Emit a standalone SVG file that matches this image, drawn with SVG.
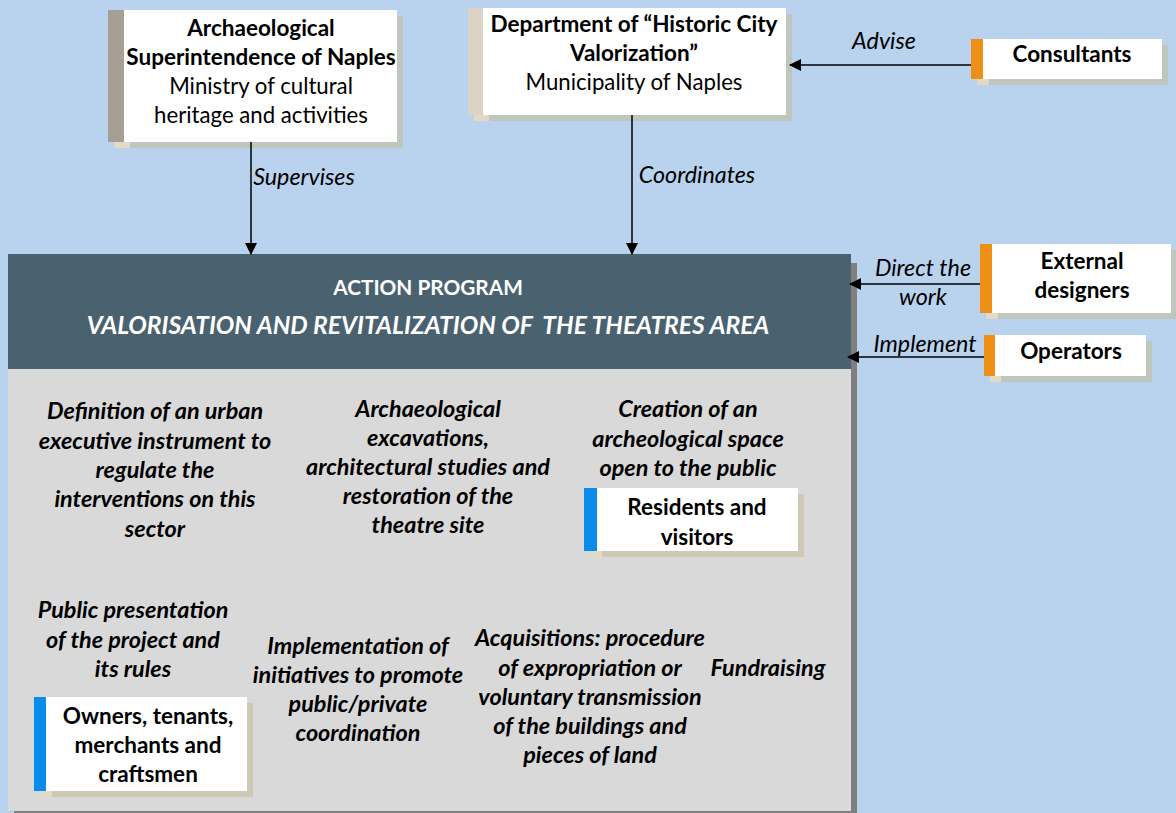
<svg xmlns="http://www.w3.org/2000/svg" width="1176" height="813" viewBox="0 0 1176 813">
<defs>
<style>
text{font-family:Lato,"Liberation Sans",sans-serif;fill:#000;text-anchor:middle}
.b{font-weight:bold;font-size:22.5px}
.r{font-size:22.2px}
.i{font-style:italic;font-size:23.3px}
.bi{font-weight:bold;font-style:italic;font-size:23.4px}
.w{fill:#fff}
.sh{fill:#BEC6BE}
.shb{fill:#E2DAC6}
.sh2{fill:#CEC9B4}
.box{fill:#fff}
.orange{fill:#EE9016}
.blue{fill:#0A8CEB}
.conn{stroke:#000;stroke-width:1.5;fill:none}
</style>
<marker id="ah" markerWidth="12" markerHeight="12" refX="11" refY="6" orient="auto" markerUnits="userSpaceOnUse">
<path d="M0,0 L12,6 L0,12 Z" fill="#000"/>
</marker>
</defs>
<rect width="1176" height="813" fill="#B9D3EE"/>

<g id="action-program">
<rect x="14" y="263" width="843" height="552" fill="#7F7F7F"/>
<rect x="8" y="369" width="843" height="442" fill="#D9D9D9"/>
<rect x="8" y="254" width="843" height="115" fill="#4A6270"/>
<text class="b w" x="428" y="295" style="font-size:20.8px">ACTION PROGRAM</text>
<text class="bi w" x="428" y="334" style="font-size:24.6px" xml:space="preserve">VALORISATION AND REVITALIZATION OF  THE THEATRES AREA</text>
</g>

<g id="superintendence">
<rect class="shb" x="114" y="16" width="20" height="132"/>
<rect class="sh" x="130" y="16" width="273" height="132"/>
<rect x="108" y="10" width="16" height="132" fill="#A89F94"/>
<rect class="box" x="124" y="10" width="273" height="132"/>
<text class="b" x="261" y="36">Archaeological</text>
<text class="b" x="261" y="65">Superintendence of Naples</text>
<text class="r" x="261" y="94">Ministry of cultural</text>
<text class="r" x="261" y="123">heritage and activities</text>
</g>

<g id="department">
<rect class="shb" x="474" y="14" width="20" height="107"/>
<rect class="sh" x="489" y="14" width="303" height="107"/>
<rect x="468" y="8" width="15" height="107" fill="#DDD3C4"/>
<rect class="box" x="483" y="8" width="303" height="107"/>
<text class="b" x="634" y="32">Department of “Historic City</text>
<text class="b" x="634" y="61">Valorization”</text>
<text class="r" x="634" y="90">Municipality of Naples</text>
</g>

<g id="consultants">
<rect class="shb" x="977" y="45" width="20" height="40"/>
<rect class="sh" x="989" y="45" width="179" height="40"/>
<rect class="orange" x="971" y="39" width="12" height="40"/>
<rect class="box" x="983" y="39" width="179" height="40"/>
<text class="b" x="1072" y="62">Consultants</text>
</g>

<g id="external-designers">
<rect class="shb" x="986" y="250" width="20" height="69"/>
<rect class="sh" x="998" y="250" width="178" height="69"/>
<rect class="orange" x="980" y="244" width="12" height="69"/>
<rect class="box" x="992" y="244" width="179" height="69"/>
<text class="b" x="1082" y="269">External</text>
<text class="b" x="1082" y="298">designers</text>
</g>

<g id="operators">
<rect class="shb" x="990" y="341" width="20" height="41"/>
<rect class="sh" x="1001" y="341" width="151" height="41"/>
<rect class="orange" x="984" y="335" width="11" height="41"/>
<rect class="box" x="995" y="335" width="151" height="41"/>
<text class="b" x="1071" y="359">Operators</text>
</g>

<g id="residents">
<rect class="shb" x="590" y="494" width="20" height="63"/>
<rect class="sh2" x="602" y="494" width="202" height="63"/>
<rect class="blue" x="584" y="488" width="13" height="63"/>
<rect class="box" x="597" y="488" width="201" height="63"/>
<text class="b" x="697" y="515">Residents and</text>
<text class="b" x="697" y="545">visitors</text>
</g>

<g id="owners">
<rect class="shb" x="40" y="703" width="20" height="94"/>
<rect class="sh2" x="52" y="703" width="201" height="94"/>
<rect class="blue" x="34" y="697" width="12" height="94"/>
<rect class="box" x="46" y="697" width="201" height="94"/>
<text class="b" x="148" y="724">Owners, tenants,</text>
<text class="b" x="148" y="753">merchants and</text>
<text class="b" x="148" y="782">craftsmen</text>
</g>

<g id="task-definition">
<text class="bi" x="155" y="419">Definition of an urban</text>
<text class="bi" x="155" y="449">executive instrument to</text>
<text class="bi" x="155" y="478">regulate the</text>
<text class="bi" x="155" y="507">interventions on this</text>
<text class="bi" x="155" y="537">sector</text>
</g>
<g id="task-excavations">
<text class="bi" x="428" y="417">Archaeological</text>
<text class="bi" x="428" y="446">excavations,</text>
<text class="bi" x="428" y="475">architectural studies and</text>
<text class="bi" x="428" y="504">restoration of the</text>
<text class="bi" x="428" y="533">theatre site</text>
</g>
<g id="task-space">
<text class="bi" x="688" y="417">Creation of an</text>
<text class="bi" x="688" y="447">archeological space</text>
<text class="bi" x="688" y="476">open to the public</text>
</g>
<g id="task-presentation">
<text class="bi" x="133" y="618">Public presentation</text>
<text class="bi" x="133" y="648">of the project and</text>
<text class="bi" x="133" y="677">its rules</text>
</g>
<g id="task-coordination">
<text class="bi" x="358" y="654">Implementation of</text>
<text class="bi" x="358" y="683">initiatives to promote</text>
<text class="bi" x="358" y="712">public/private</text>
<text class="bi" x="358" y="741">coordination</text>
</g>
<g id="task-acquisitions">
<text class="bi" x="590" y="646">Acquisitions: procedure</text>
<text class="bi" x="590" y="676">of expropriation or</text>
<text class="bi" x="590" y="705">voluntary transmission</text>
<text class="bi" x="590" y="734">of the buildings and</text>
<text class="bi" x="590" y="763">pieces of land</text>
</g>
<g id="task-fundraising">
<text class="bi" x="768" y="676">Fundraising</text>
</g>

<g id="connectors">
<line class="conn" x1="251" y1="142" x2="251" y2="254" marker-end="url(#ah)"/>
<text class="i" x="304" y="185">Supervises</text>
<line class="conn" x1="632" y1="115" x2="632" y2="254" marker-end="url(#ah)"/>
<text class="i" x="697" y="183">Coordinates</text>
<line class="conn" x1="971" y1="65" x2="790" y2="65" marker-end="url(#ah)"/>
<text class="i" x="884" y="49">Advise</text>
<line class="conn" x1="980" y1="284" x2="850" y2="284" marker-end="url(#ah)"/>
<text class="i" x="923" y="276">Direct the</text>
<text class="i" x="923" y="305">work</text>
<line class="conn" x1="984" y1="357" x2="848" y2="357" marker-end="url(#ah)"/>
<text class="i" x="925" y="352">Implement</text>
</g>
</svg>
